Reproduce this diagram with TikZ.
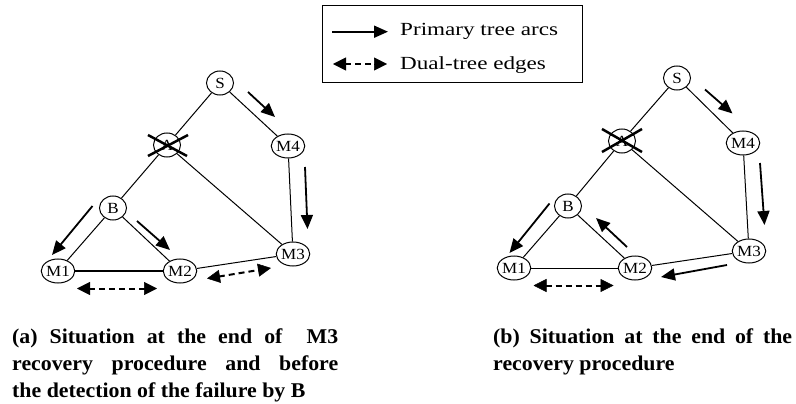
\documentclass[tikz,border=0pt]{standalone}
\usepackage{fontspec}
\setmainfont{Liberation Serif}
\newfontfamily\legfont[FakeStretch=1.25]{Liberation Serif}
\newfontfamily\capfont[FakeStretch=1.04]{Liberation Serif}
\newfontfamily\nodefont[FakeStretch=1.1]{Liberation Serif}
\usetikzlibrary{arrows.meta,shapes.geometric,calc}
\newcommand\dualarrow[2]{%
  \draw[dshaft] ($(#1)!12pt!(#2)$) -- ($(#2)!12pt!(#1)$);
  \draw[dtip] ($(#1)!13pt!(#2)$) -- (#1);
  \draw[dtip] ($(#2)!13pt!(#1)$) -- (#2);}
\begin{document}
\begin{tikzpicture}[x=1pt,y=-1pt,
  nd/.style={draw,ellipse,line width=1pt,minimum width=27pt,minimum height=24pt,inner sep=0pt,
    font=\nodefont\fontsize{15.5}{15.5}\selectfont},
  edge/.style={line width=1pt},
  thickedge/.style={line width=2pt},
  parr/.style={line width=1.8pt,-{Triangle[length=14pt,width=12pt]}},
  dshaft/.style={line width=2pt,dash pattern=on 6pt off 4pt},
  dtip/.style={line width=0.5pt,-{Triangle[length=13pt,width=13pt]}},
  xmark/.style={line width=2.5pt},
  legtext/.style={anchor=base west,inner sep=0pt,font=\legfont\fontsize{18.5}{18.5}\selectfont},
  captext/.style={anchor=base west,inner sep=0pt,font=\capfont\bfseries\fontsize{21}{21}\selectfont}]
\useasboundingbox (0,0) rectangle (796,404);
% legend
\node[draw,line width=1pt,minimum width=260pt,minimum height=76.7pt,anchor=north west,inner sep=0pt] (leg) at (321.7,5) {};
\coordinate (l1a) at (332,31.7);
\coordinate (l1b) at (388,31.7);
\coordinate (l2a) at (333,64);
\coordinate (l2b) at (387,64);
\draw[parr] (l1a) -- (l1b);
\dualarrow{l2a}{l2b}
\node[legtext] (lt1) at (400,36) {Primary tree arcs};
\node[legtext] (lt2) at (400,70) {Dual-tree edges};
% ---------- left diagram
\node[nd] (S) at (220,83) {S};
\node[nd] (A) at (167,145) {A};
\node[nd] (M4) at (288,146) {M4};
\node[nd] (B) at (113,208) {B};
\node[nd] (M1) at (58,271) {M1};
\node[nd] (M2) at (180,271) {M2};
\node[nd] (M3) at (293,254) {M3};
\draw[edge] (S) -- (A);
\draw[edge] (S) -- (M4);
\draw[edge] (A) -- (B);
\draw[edge] (A) -- (M3);
\draw[edge] (M4) -- (M3);
\draw[edge] (B) -- (M1);
\draw[edge] (B) -- (M2);
\draw[thickedge] (M1) -- (M2);
\draw[edge] (M2) -- (M3);
\draw[xmark] ([shift={(-19,-10)}]A.center) -- ([shift={(20,11)}]A.center);
\draw[xmark] ([shift={(-19,11)}]A.center) -- ([shift={(21,-10)}]A.center);
\draw[parr] (248,92) -- (275,117);
\draw[parr] (305,167) -- (307.5,229);
\draw[parr] (92.5,206) -- (52,255);
\draw[parr] (137,221) -- (170,250);
\coordinate (d1a) at (77,288.5);
\coordinate (d1b) at (157,288.5);
\coordinate (d2a) at (207,278.5);
\coordinate (d2b) at (271,268);
\dualarrow{d1a}{d1b}
\dualarrow{d2a}{d2b}
% ---------- right diagram
\node[nd] (Sb) at (677,78) {S};
\node[nd] (Ab) at (622,141) {A};
\node[nd] (M4b) at (743,143) {M4};
\node[nd] (Bb) at (568,206) {B};
\node[nd] (M1b) at (514,268) {M1};
\node[nd] (M2b) at (635,268) {M2};
\node[nd] (M3b) at (749,251) {M3};
\draw[edge] (Sb) -- (Ab);
\draw[edge] (Sb) -- (M4b);
\draw[edge] (Ab) -- (Bb);
\draw[edge] (Ab) -- (M3b);
\draw[edge] (M4b) -- (M3b);
\draw[edge] (Bb) -- (M1b);
\draw[edge] (Bb) -- (M2b);
\draw[edge] (M1b) -- (M2b);
\draw[edge] (M2b) -- (M3b);
\draw[xmark] ([shift={(-20,-12)}]Ab.center) -- ([shift={(20,11)}]Ab.center);
\draw[xmark] ([shift={(-20,11)}]Ab.center) -- ([shift={(20,-12)}]Ab.center);
\draw[parr] (705,89.5) -- (732.5,113.5);
\draw[parr] (760,163) -- (764.5,225);
\draw[parr] (549.5,203.5) -- (509.5,253);
\draw[parr] (627,247) -- (596,218);
\draw[parr] (727,265) -- (661,277);
\coordinate (d3a) at (533.5,285.5);
\coordinate (d3b) at (613.5,285.5);
\dualarrow{d3a}{d3b}
% ---------- captions
\node[captext] (ca1) at (12,343.3) {\makebox[326pt][s]{(a) Situation at the end of\ \ M3}};
\node[captext] (ca2) at (12,370.5) {\makebox[326pt][s]{recovery procedure and before}};
\node[captext] (ca3) at (12,397) {the detection of the failure by B};
\node[captext] (cb1) at (493,343.3) {\makebox[299pt][s]{(b) Situation at the end of the}};
\node[captext] (cb2) at (493,370.5) {recovery procedure};
\end{tikzpicture}
\end{document}
